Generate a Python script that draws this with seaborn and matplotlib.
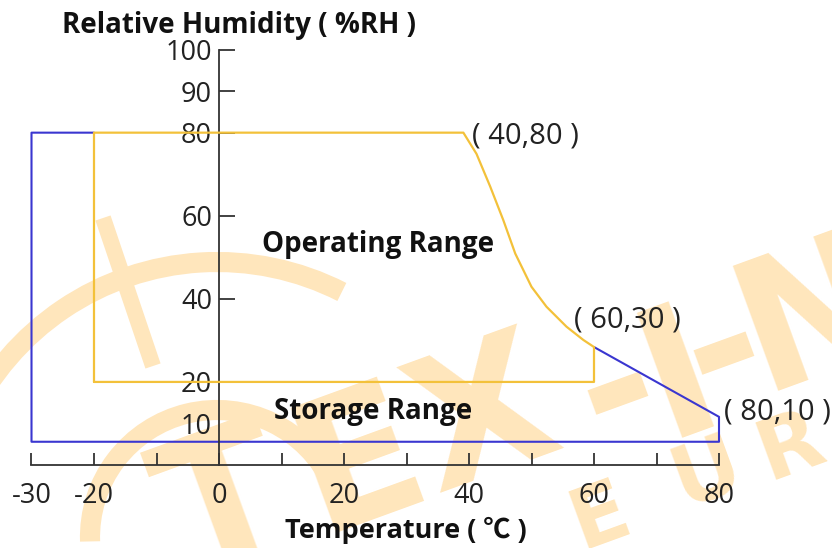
import matplotlib
matplotlib.use("Agg")
import matplotlib.pyplot as plt
import seaborn as sns
from matplotlib.patches import Arc

# 工作范围 / 存储范围 边界点 (温度 ℃, 湿度 %RH)
op_temp = [-20, -20, 39.1, 41.2, 43.4, 45.5, 47.4, 50.0, 52.4, 55.6, 58.3, 60, 60, -20]
op_rh = [20, 80, 80, 74.9, 67.0, 58.9, 50.9, 42.9, 38.1, 33.3, 30.1, 28.4, 20, 20]
st_temp = [-20, -30, -30, 80, 80, 60]
st_rh = [80, 80, 5.6, 5.6, 11.6, 28.4]

x_ticks = list(range(-30, 81, 10))
x_labels = ['-30', '-20', '', '0', '', '20', '', '40', '', '60', '', '80']
y_ticks = [20, 40, 60, 80, 90, 100]

# 标注文字及其位置
point_text = ['( 40,80 )', '( 60,30 )', '( 80,10 )']
point_x = [40.5, 56.8, 80.8]
point_y = [79.2, 35, 12.8]

sns.set_style("white")
plt.rcParams['font.family'] = ['Open Sans', 'Noto Sans CJK KR', 'DejaVu Sans']

fig = plt.figure(figsize=(8.32, 5.48), dpi=100)

# 背景水印 (像素坐标)
bg = fig.add_axes([0, 0, 1, 1], zorder=0)
bg.set_xlim(0, 832)
bg.set_ylim(548, 0)
bg.axis('off')
wm = '#FFE6BC'
bg.add_patch(Arc((217, 537), 550, 550, theta1=175, theta2=297, lw=14.5, color=wm))
bg.add_patch(Arc((217, 537), 254, 254, theta1=178, theta2=335, lw=14.5, color=wm))
bg.plot([103, 153], [218, 366], color=wm, lw=11.5, solid_capstyle='butt')
wm_big = [('T', 225, 510), ('E', 360, 465), ('X', 485, 422), ('-', 618, 392),
          ('I', 680, 380), ('-', 724, 352), ('N', 815, 318)]
for ch, cx, cy in wm_big:
    bg.text(cx, cy, ch, color=wm, fontsize=130, fontweight='bold', rotation=20,
            rotation_mode='anchor', ha='center', va='center', family='DejaVu Sans')
wm_small = [('E', 600, 517), ('U', 707, 473), ('R', 790, 447)]
for ch, cx, cy in wm_small:
    bg.text(cx, cy, ch, color=wm, fontsize=60, fontweight='bold', rotation=20,
            rotation_mode='anchor', ha='center', va='center', family='DejaVu Sans')

# 主图
ax = fig.add_axes([12.75 / 832, 62.2 / 548, 818.75 / 832, 457 / 548], zorder=1)
ax.patch.set_alpha(0)
sns.lineplot(x=op_temp, y=op_rh, sort=False, estimator=None, color='#F3C13A',
             lw=1.6, ax=ax, zorder=3)
sns.lineplot(x=st_temp, y=st_rh, sort=False, estimator=None, color='#3A36D0',
             lw=1.5, ax=ax, zorder=2)

ax.set_xlim(-33, 98)
ax.set_ylim(-5, 105)

for s in ['top', 'right']:
    ax.spines[s].set_visible(False)
ax.spines['left'].set_position(('data', 0))
ax.spines['bottom'].set_position(('data', 0))
ax.spines['left'].set_bounds(0, 100)
ax.spines['bottom'].set_bounds(-30, 80)
for s in ['left', 'bottom']:
    ax.spines[s].set_color('#333333')
    ax.spines[s].set_linewidth(1.3)

ax.set_xticks(x_ticks, labels=x_labels)
ax.set_yticks(y_ticks, labels=[str(v) for v in y_ticks])
ax.set_yticks([10], labels=['10'], minor=True)
ax.tick_params(axis='x', bottom=True, direction='in', length=8.5, width=1.3,
               color='#333333', labelsize=19.5, labelcolor='#222222', pad=12)
ax.tick_params(axis='y', which='major', left=True, direction='in', length=11.5,
               width=1.3, color='#333333', labelsize=19.5, labelcolor='#222222', pad=5)
ax.tick_params(axis='y', which='minor', left=True, length=0, labelsize=19.5,
               labelcolor='#222222', pad=5)
ax.set_xlabel('')
ax.set_ylabel('')

for x, y, txt in zip(point_x, point_y, point_text):
    ax.text(x, y, txt, fontsize=21, color='#222222', ha='left', va='center')

ax.text(25.4, 53, 'Operating Range', fontsize=20, fontweight='bold',
        color='#111111', ha='center', va='center')
ax.text(24.6, 13, 'Storage Range', fontsize=20, fontweight='bold',
        color='#111111', ha='center', va='center')

fig.text(62 / 832, 1 - 25 / 548, 'Relative Humidity ( %RH )', fontsize=20,
         fontweight='bold', color='#111111', ha='left', va='center')
fig.text(406 / 832, 1 - 530 / 548, 'Temperature ( ℃ )', fontsize=19.5,
         fontweight='bold', color='#111111', ha='center', va='center')

fig.savefig('out.png', dpi=100)
